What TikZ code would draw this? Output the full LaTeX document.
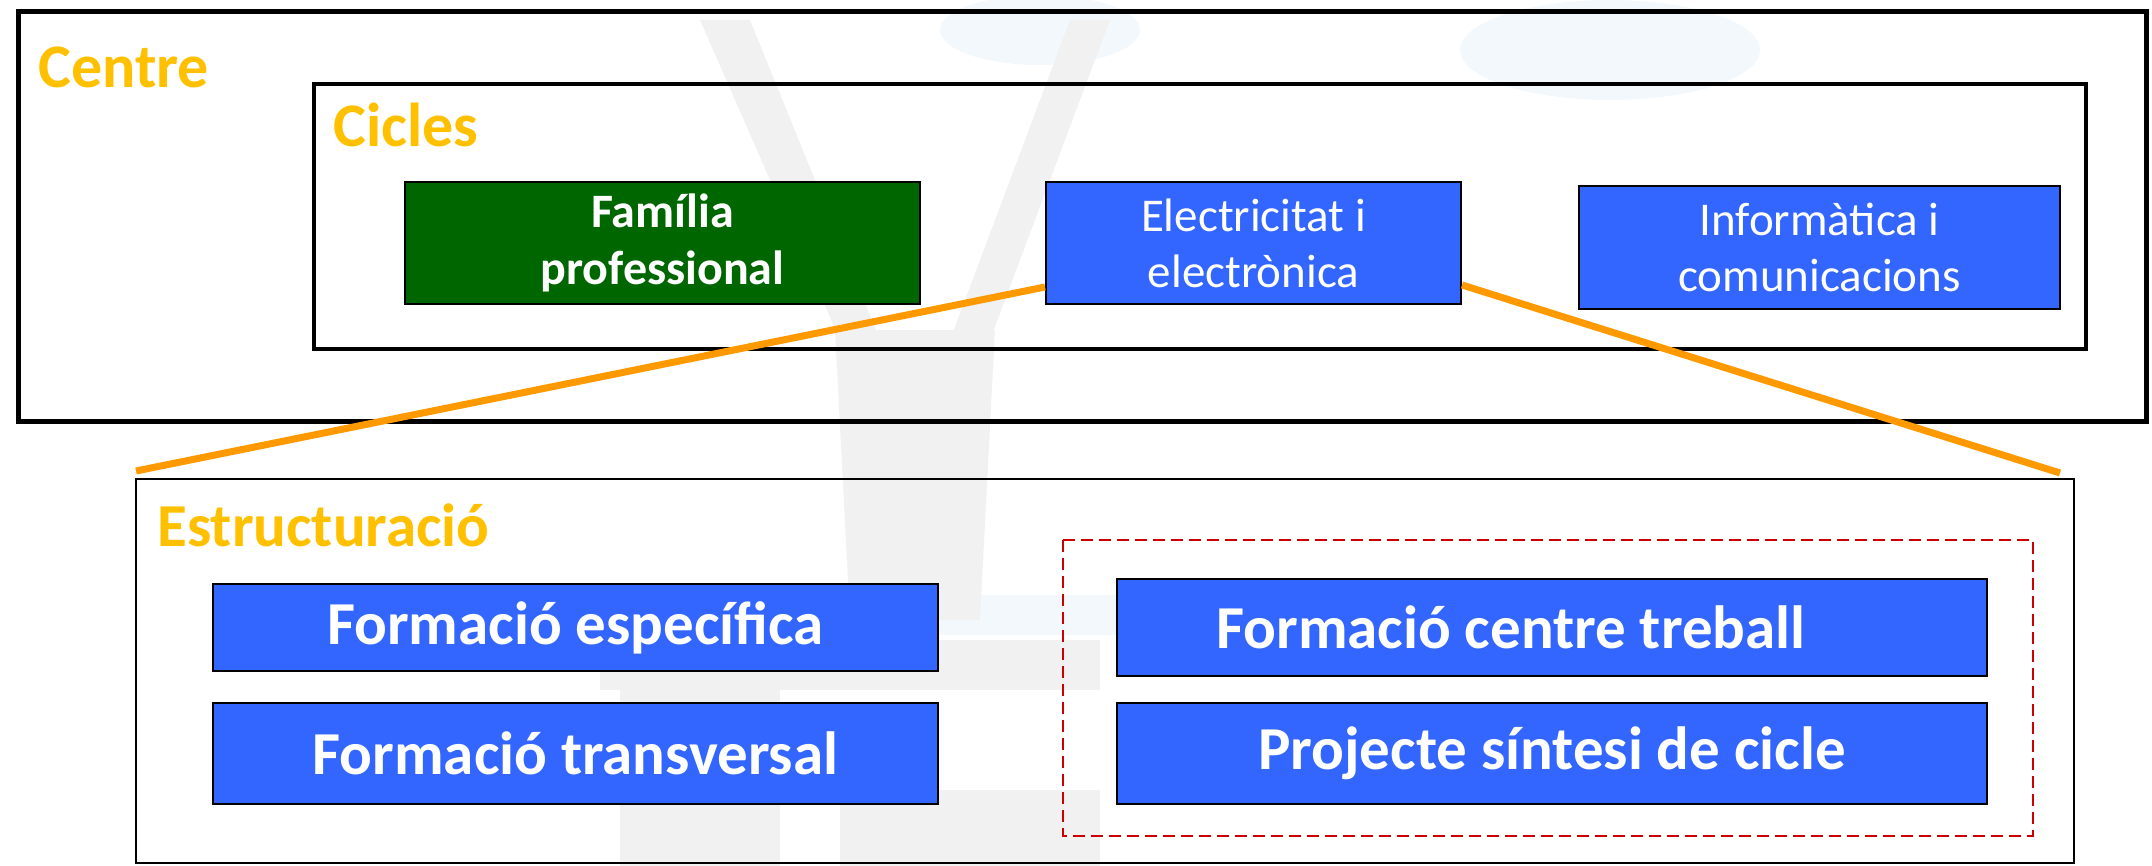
\documentclass[tikz,border=0pt]{standalone}
\usepackage{fontspec}
\setmainfont{Carlito}
\definecolor{blauCaixa}{HTML}{3366FF}
\definecolor{verdCaixa}{HTML}{006600}
\definecolor{grocTitol}{HTML}{FFC000}
\definecolor{taronja}{HTML}{FF9900}
\definecolor{vermellMarc}{HTML}{CC0000}
\definecolor{blauFons}{HTML}{F3F8FC}
\definecolor{grisFons}{HTML}{F1F1F1}
\tikzset{
  titol/.style={anchor=base west, text=grocTitol, inner sep=0pt,
    font=\fontsize{31pt}{37pt}\selectfont\bfseries},
  caixa/.style={draw=black, line width=1pt, fill=blauCaixa, text=white,
    align=center, inner sep=0pt},
  gran/.style={caixa, font=\fontsize{30.5pt}{36pt}\selectfont\bfseries},
  petita/.style={caixa, font=\fontsize{23.5pt}{28pt}\selectfont},
  enllac/.style={draw=taronja, line width=3.5pt},
}
\begin{document}
\begin{tikzpicture}[x=0.5pt,y=-0.5pt] %1 unitat = 1 pixel
	\useasboundingbox (0,0) rectangle (2152,866);
		%Fons (marca d'aigua)
	\fill[blauFons] (1040,30) ellipse (100 and 35);
	\fill[blauFons] (1610,50) ellipse (150 and 50);
	\fill[blauFons] (820,595) rectangle (1370,635);
	\fill[grisFons] (700,20) -- (750,20) -- (880,340) -- (840,340) -- cycle;
	\fill[grisFons] (1070,20) -- (1110,20) -- (990,340) -- (950,340) -- cycle;
	\fill[grisFons] (835,330) -- (995,330) -- (980,620) -- (850,620) -- cycle;
	\fill[grisFons] (600,640) rectangle (1100,690);
	\fill[grisFons] (620,690) rectangle (780,866);
	\fill[grisFons] (840,790) rectangle (1100,866);
		%Marcs
	\draw[line width=2.5pt] (18,12) rectangle (2146,421); %Centre
	\draw[line width=2pt] (314,84) rectangle (2086,349); %Cicles
	\draw[line width=1pt] (136,479) rectangle (2074,863); %Estructuracio
	\draw[vermellMarc, line width=1pt, dash pattern=on 6pt off 3pt] (1063,540) rectangle (2033,836);
		%Titols
	\node[titol] (centre) at (38,88) {Centre};
	\node[titol] (cicles) at (333,147) {Cicles};
	\node[titol, font=\fontsize{30.5pt}{36pt}\selectfont\bfseries] (estruc) at (157,546) {Estructuració};
		%Cicles
	\node[caixa, fill=verdCaixa, minimum width=257.5pt, minimum height=61pt,
	  font=\fontsize{24pt}{28.5pt}\selectfont\bfseries] (familia) at (662.5,243) {Família\\professional};
	\node[petita, minimum width=207.5pt, minimum height=61pt] (elec) at (1253.5,243) {Electricitat i\\electrònica};
	\node[petita, minimum width=240.5pt, minimum height=61.5pt] (info) at (1819.5,247.5) {Informàtica i\\comunicacions};
		%Estructuracio
	\node[gran, minimum width=362.5pt, minimum height=43.5pt] (especifica) at (575.5,627.5) {Formació específica};
	\node[gran, minimum width=362.5pt, minimum height=50.5pt] (transversal) at (575.5,753.5) {Formació transversal};
	\node[gran, minimum width=435pt, minimum height=48.5pt] (fct) at (1552,627.5) {Formació centre treball\hspace*{41pt}};
	\node[gran, minimum width=435pt, minimum height=50.5pt] (sintesi) at (1552,753.5) {Projecte síntesi de cicle};
		%Enllacos
	\coordinate (esq) at (136,471);
	\coordinate (dre) at (2060,473);
	\draw[enllac] (esq) -- ([yshift=-22pt]elec.west);
	\draw[enllac] ([yshift=-21pt]elec.east) -- (dre);
\end{tikzpicture}
\end{document}
